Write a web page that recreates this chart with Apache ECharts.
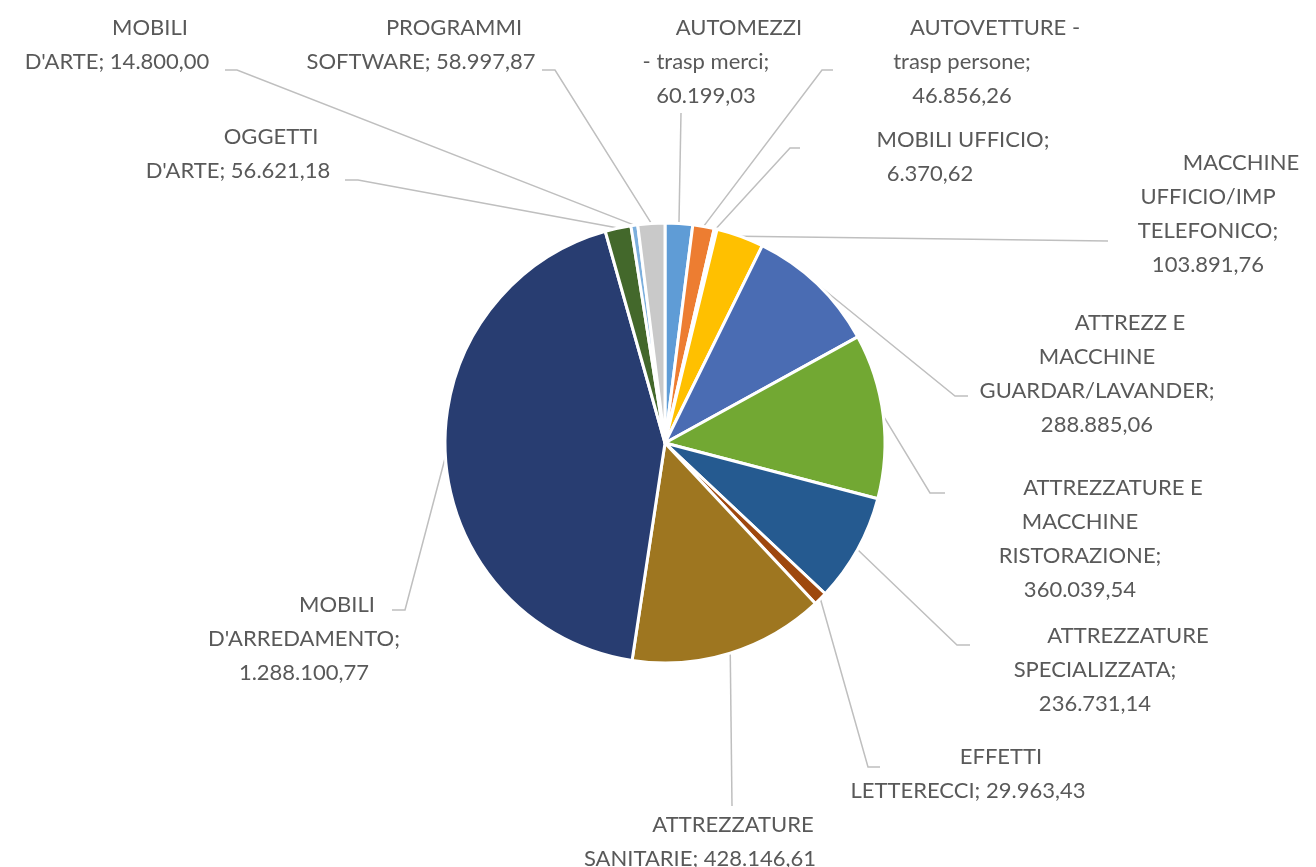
<!DOCTYPE html>
<html>
<head>
<meta charset="utf-8">
<script src="https://cdn.jsdelivr.net/npm/echarts@6/dist/echarts.min.js"></script>
<style>
  html, body { margin: 0; padding: 0; background: #fff; }
  #chart { width: 1316px; height: 867px; }
</style>
</head>
<body>
<div id="chart"></div>
<script>
// slices, clockwise from 12 o'clock
const categories = [
  'AUTOMEZZI\n- trasp merci',
  'AUTOVETTURE -\ntrasp persone',
  'MOBILI UFFICIO',
  'MACCHINE\nUFFICIO/IMP\nTELEFONICO',
  'ATTREZZ E\nMACCHINE\nGUARDAR/LAVANDER',
  'ATTREZZATURE E\nMACCHINE\nRISTORAZIONE',
  'ATTREZZATURE\nSPECIALIZZATA',
  'EFFETTI\nLETTERECCI',
  'ATTREZZATURE\nSANITARIE',
  "MOBILI\nD'ARREDAMENTO",
  "OGGETTI\nD'ARTE",
  "MOBILI\nD'ARTE",
  'PROGRAMMI\nSOFTWARE'
]
const values = [
  60199.03, 46856.26, 6370.62, 103891.76, 288885.06, 360039.54,
  236731.14, 29963.43, 428146.61, 1288100.77, 56621.18, 14800.00, 58997.87
]
const colors = [
  '#5F9CD6', '#ED7D31', '#A5A5A5', '#FFC000', '#4A6CB3', '#72A833',
  '#255A90', '#9E480E', '#9E7620', '#283D71', '#43682B', '#7CAFDD', '#C9C9C9'
]

// label placement: centre x, top y, value on its own line, leader elbow and end
const labelPlace = [
  { x: 706, y: 11, nl: true, elbow: [681, 113], end: [681, 113] },
  { x: 962, y: 11, nl: true, elbow: [822, 70], end: [833, 70] },
  { x: 930, y: 123, nl: true, elbow: [790, 148], end: [800, 148] },
  { x: 1208, y: 146, nl: true, elbow: [1108, 241], end: [1108, 241] },
  { x: 1097, y: 306, nl: true, elbow: [955, 396], end: [968, 396] },
  { x: 1080, y: 471, nl: true, elbow: [930, 493], end: [945, 493] },
  { x: 1095, y: 619, nl: true, elbow: [957, 645], end: [970, 645] },
  { x: 968, y: 740, nl: false, elbow: [868, 767], end: [880, 767] },
  { x: 700, y: 808, nl: false, elbow: [732, 806], end: [732, 806] },
  { x: 304, y: 588, nl: true, elbow: [405, 610], end: [392, 610] },
  { x: 238, y: 120, nl: false, elbow: [358, 180], end: [345, 180] },
  { x: 117, y: 11, nl: false, elbow: [237, 70], end: [225, 70] },
  { x: 421, y: 11, nl: false, elbow: [555, 70], end: [542, 70] }
]

const fmtIt = v => {
  const [int, dec] = v.toFixed(2).split('.')
  return int.replace(/\B(?=(\d{3})+(?!\d))/g, '.') + ',' + dec
}

const textStyle = { fontFamily: 'Lato', fontSize: 22, color: '#595959', lineHeight: 34 }

const chart = echarts.init(document.getElementById('chart'))

chart.setOption({
  animation: false,
  series: [{
    type: 'pie',
    center: [665, 443],
    radius: 220,
    startAngle: 90,
    clockwise: true,
    avoidLabelOverlap: false,
    data: categories.map((c, i) => ({
      name: c,
      value: values[i],
      itemStyle: { color: colors[i] }
    })),
    itemStyle: { borderColor: '#fff', borderWidth: 3 },
    label: {
      show: true,
      position: 'outside',
      width: 420,
      overflow: 'none',
      ...textStyle,
      formatter: p => {
        const sep = labelPlace[p.dataIndex].nl ? ';\n' : '; '
        const lines = (p.name + sep + fmtIt(p.value)).split('\n')
        return lines.map((l, i) => (i === 0 ? '{a|' : '{b|') + l + '}').join('\n')
      },
      rich: {
        a: { ...textStyle, padding: [0, 0, 0, 66] },
        b: { ...textStyle }
      }
    },
    labelLine: {
      show: true,
      length: 10,
      length2: 10,
      lineStyle: { color: '#BFBFBF', width: 1.5 }
    },
    labelLayout: params => {
      const lp = labelPlace[params.dataIndex]
      const start = params.labelLinePoints ? params.labelLinePoints[0] : lp.elbow
      return {
        x: lp.x,
        y: lp.y,
        align: 'center',
        verticalAlign: 'top',
        labelLinePoints: [start, lp.elbow, lp.end]
      }
    },
    emphasis: { disabled: true }
  }]
})
</script>
</body>
</html>
